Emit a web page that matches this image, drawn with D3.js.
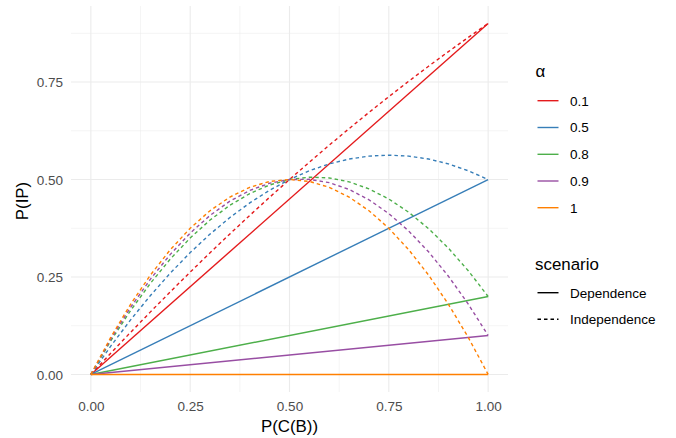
<!DOCTYPE html>
<html>
<head>
<meta charset="utf-8">
<script src="https://cdn.jsdelivr.net/npm/d3@7"></script>
<style>
  body { margin: 0; background: #fff; }
  svg { font-family: "Liberation Sans", Arial, Helvetica, sans-serif; }
</style>
</head>
<body>
<svg id="chart" width="676" height="438"></svg>
<script>
// ---- data ----
const alphaLevels = ["0.1", "0.5", "0.8", "0.9", "1"];
const alphaColors = ["#E41A1C", "#377EB8", "#4DAF4A", "#984EA3", "#FF7F00"];
const scenarios = ["Dependence", "Independence"];

const pcb = [0, 0.05, 0.1, 0.15, 0.2, 0.25, 0.3, 0.35, 0.4, 0.45, 0.5,
             0.55, 0.6, 0.65, 0.7, 0.75, 0.8, 0.85, 0.9, 0.95, 1];

// Dependence (straight lines, end points)
const depX = [0, 1];
const dep_01 = [0, 0.9];
const dep_05 = [0, 0.5];
const dep_08 = [0, 0.2];
const dep_09 = [0, 0.1];
const dep_1  = [0, 0];

// Independence (curves)
const ind_01 = [0, 0.0545, 0.108, 0.1605, 0.212, 0.2625, 0.312, 0.3605, 0.408, 0.4545, 0.5,
                0.5445, 0.588, 0.6305, 0.672, 0.7125, 0.752, 0.7905, 0.828, 0.8645, 0.9];
const ind_05 = [0, 0.0725, 0.14, 0.2025, 0.26, 0.3125, 0.36, 0.4025, 0.44, 0.4725, 0.5,
                0.5225, 0.54, 0.5525, 0.56, 0.5625, 0.56, 0.5525, 0.54, 0.5225, 0.5];
const ind_08 = [0, 0.086, 0.164, 0.234, 0.296, 0.35, 0.396, 0.434, 0.464, 0.486, 0.5,
                0.506, 0.504, 0.494, 0.476, 0.45, 0.416, 0.374, 0.324, 0.266, 0.2];
const ind_09 = [0, 0.0905, 0.172, 0.2445, 0.308, 0.3625, 0.408, 0.4445, 0.472, 0.4905, 0.5,
                0.5005, 0.492, 0.4745, 0.448, 0.4125, 0.368, 0.3145, 0.252, 0.1805, 0.1];
const ind_1  = [0, 0.095, 0.18, 0.255, 0.32, 0.375, 0.42, 0.455, 0.48, 0.495, 0.5,
                0.495, 0.48, 0.455, 0.42, 0.375, 0.32, 0.255, 0.18, 0.095, 0];

const xTicks = [0, 0.25, 0.5, 0.75, 1];
const xTickLabels = ["0.00", "0.25", "0.50", "0.75", "1.00"];
const yTicks = [0, 0.25, 0.5, 0.75];
const yTickLabels = ["0.00", "0.25", "0.50", "0.75"];
const xMinor = [0.125, 0.375, 0.625, 0.875];
const yMinor = [0.125, 0.375, 0.625, 0.875];

// ---- build series ----
const depSeries = [dep_01, dep_05, dep_08, dep_09, dep_1];
const indSeries = [ind_01, ind_05, ind_08, ind_09, ind_1];
const groups = [];
alphaLevels.forEach((a, i) => {
  groups.push({ alpha: a, scenario: "Dependence",
    pts: depX.map((x, j) => [x, depSeries[i][j]]) });
  groups.push({ alpha: a, scenario: "Independence",
    pts: pcb.map((x, j) => [x, indSeries[i][j]]) });
});

// ---- layout ----
const svg = d3.select("#chart");
const panel = { left: 71, right: 508, top: 6, bottom: 392 };

const x = d3.scaleLinear().domain([-0.05, 1.05]).range([panel.left, panel.right]);
const y = d3.scaleLinear().domain([-0.045, 0.945]).range([panel.bottom, panel.top]);
const color = d3.scaleOrdinal().domain(alphaLevels).range(alphaColors);
const dash = d3.scaleOrdinal().domain(scenarios).range(["none", "3.5,3"]);

const grid = svg.append("g");
grid.selectAll(".xminor").data(xMinor).join("line")
  .attr("x1", d => x(d)).attr("x2", d => x(d))
  .attr("y1", panel.top).attr("y2", panel.bottom)
  .attr("stroke", "#EBEBEB").attr("stroke-width", 0.55);
grid.selectAll(".yminor").data(yMinor).join("line")
  .attr("y1", d => y(d)).attr("y2", d => y(d))
  .attr("x1", panel.left).attr("x2", panel.right)
  .attr("stroke", "#EBEBEB").attr("stroke-width", 0.55);
grid.selectAll(".xmajor").data(xTicks).join("line")
  .attr("x1", d => x(d)).attr("x2", d => x(d))
  .attr("y1", panel.top).attr("y2", panel.bottom)
  .attr("stroke", "#EBEBEB").attr("stroke-width", 1.1);
grid.selectAll(".ymajor").data(yTicks).join("line")
  .attr("y1", d => y(d)).attr("y2", d => y(d))
  .attr("x1", panel.left).attr("x2", panel.right)
  .attr("stroke", "#EBEBEB").attr("stroke-width", 1.1);

// axes (text only)
const xAxis = svg.append("g").attr("transform", `translate(0,${panel.bottom})`)
  .call(d3.axisBottom(x).tickValues(xTicks).tickFormat((d, i) => xTickLabels[i]).tickSize(0).tickPadding(9));
const yAxis = svg.append("g").attr("transform", `translate(${panel.left},0)`)
  .call(d3.axisLeft(y).tickValues(yTicks).tickFormat((d, i) => yTickLabels[i]).tickSize(0).tickPadding(8));
[xAxis, yAxis].forEach(a => {
  a.select(".domain").remove();
  a.selectAll("text").attr("fill", "#4D4D4D").style("font-size", "13.5px")
    .style("font-family", "'Liberation Sans', Arial, sans-serif");
});
yAxis.selectAll("text").attr("dy", "0.36em");

// axis titles
svg.append("text").attr("x", x(0.5)).attr("y", 431.5)
  .attr("text-anchor", "middle").attr("fill", "#000").style("font-size", "16.9px")
  .text("P(C(B))");
svg.append("text").attr("transform", `translate(27.5,201) rotate(-90)`)
  .attr("text-anchor", "middle").attr("fill", "#000").style("font-size", "16.9px")
  .text("P(IP)");

// lines
const line = d3.line().x(d => x(d[0])).y(d => y(d[1]));
svg.append("g").selectAll("path").data(groups).join("path")
  .attr("d", d => line(d.pts))
  .attr("fill", "none")
  .attr("stroke", d => color(d.alpha))
  .attr("stroke-width", 1.4)
  .attr("stroke-dasharray", d => dash(d.scenario));

// legend
const leg = svg.append("g");
leg.append("text").attr("x", 535.5).attr("y", 76.5).style("font-size", "16.9px").attr("fill", "#000").text("α");
const rowsY = [100.7, 127.5, 154.3, 181, 207.7];
alphaLevels.forEach((a, i) => {
  leg.append("line").attr("x1", 537.5).attr("x2", 558.5).attr("y1", rowsY[i]).attr("y2", rowsY[i])
    .attr("stroke", color(a)).attr("stroke-width", 1.4);
  leg.append("text").attr("x", 570).attr("y", rowsY[i]).attr("dy", "0.36em")
    .style("font-size", "13.5px").attr("fill", "#000").text(a);
});
leg.append("text").attr("x", 535).attr("y", 269.5).style("font-size", "16.9px").attr("fill", "#000").text("scenario");
const sRowsY = [292.7, 319.3];
scenarios.forEach((s, i) => {
  leg.append("line").attr("x1", 537.5).attr("x2", 558.5).attr("y1", sRowsY[i]).attr("y2", sRowsY[i])
    .attr("stroke", "#000").attr("stroke-width", 1.4)
    .attr("stroke-dasharray", dash(s));
  leg.append("text").attr("x", 570).attr("y", sRowsY[i]).attr("dy", "0.36em")
    .style("font-size", "13.5px").attr("fill", "#000").text(s);
});
</script>
</body>
</html>
